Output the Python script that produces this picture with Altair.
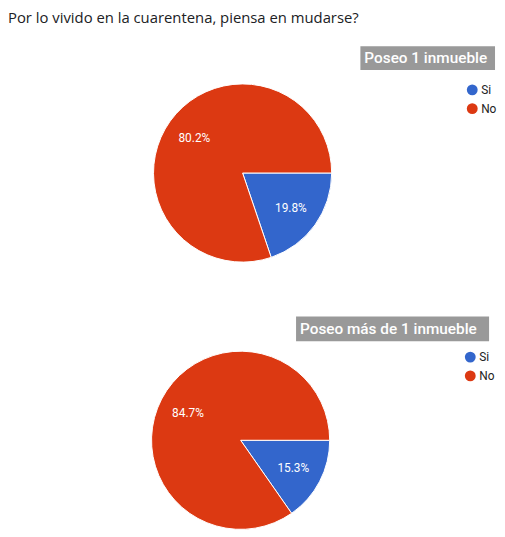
import math
import altair as alt
import pandas as pd

title_text = "Por lo vivido en la cuarentena, piensa en mudarse?"
groups = ["Poseo 1 inmueble", "Poseo más de 1 inmueble"]
answers = ["Si", "No"]
pct_1 = [19.8, 80.2]
pct_2 = [15.3, 84.7]
colors = ["#3366cc", "#dc3912"]

FONT = "Roboto"
TFONT = "Open Sans"


def panel(group, pcts, w, h, cx, cy, box, legend_xy, title=None):
    df = pd.DataFrame({
        "answer": answers,
        "pct": pcts,
        "order": list(range(len(answers))),
        "label": [f"{p:.1f}%" for p in pcts],
    })
    theta = alt.Theta("pct:Q", stack=True,
                      scale=alt.Scale(range=[math.pi / 2, math.pi / 2 + 2 * math.pi]))
    color = alt.Color(
        "answer:N",
        scale=alt.Scale(domain=answers, range=colors),
        legend=alt.Legend(
            title=None, orient="none", legendX=legend_xy[0], legendY=legend_xy[1],
            symbolType="circle", symbolSize=120, symbolStrokeWidth=0,
            labelFont=FONT, labelFontSize=12, labelColor="#222222",
            rowPadding=7, padding=0, labelOffset=3,
        ),
    )
    base = alt.Chart(df).encode(theta=theta, order=alt.Order("order:Q"))
    arcs = base.mark_arc(radius=90, stroke="white", strokeWidth=1).encode(
        color=color, x=alt.value(cx), y=alt.value(cy))
    labels = base.mark_text(radius=60, color="white", font=FONT, fontSize=12).encode(
        text="label:N", x=alt.value(cx), y=alt.value(cy))

    gdf = pd.DataFrame({"g": [group]})
    rect = alt.Chart(gdf).mark_rect(color="#999999").encode(
        x=alt.value(box[0]), x2=alt.value(box[1]), y=alt.value(box[2]), y2=alt.value(box[3]))
    btext = alt.Chart(gdf).mark_text(
        align="left", baseline="middle", color="white", font=FONT, fontSize=15.5, fontWeight=500
    ).encode(text="g:N", x=alt.value(box[0] + 4), y=alt.value((box[2] + box[3]) / 2))

    layers = [arcs, labels, rect, btext]
    if title is not None:
        tdf = pd.DataFrame({"t": [title]})
        ttext = alt.Chart(tdf).mark_text(
            align="left", baseline="alphabetic", color="#202124", font=TFONT, fontSize=15
        ).encode(text="t:N", x=alt.value(0), y=alt.value(12))
        layers.append(ttext)
    return alt.layer(*layers).properties(width=w, height=h)


p1 = panel(groups[0], pct_1, 489, 270, 237, 164, (356, 492, 36, 60), (463, 74), title=title_text)
p2 = panel(groups[1], pct_2, 489, 244, 235, 154, (291, 486, 29, 54), (461, 64))

chart = (
    alt.vconcat(p1, p2, spacing=10)
    .resolve_scale(color="independent", theta="independent")
    .resolve_legend(color="independent")
    .configure_view(stroke=None)
    .properties(padding=0, background="white")
)

chart.save("out.html", embed_options={"renderer": "svg", "actions": False})
